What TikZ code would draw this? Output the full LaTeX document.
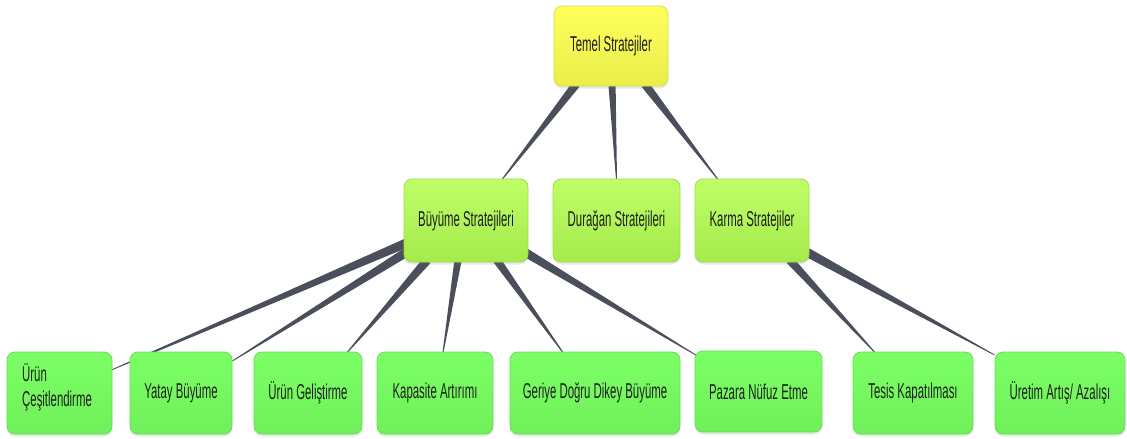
\documentclass[tikz,border=0pt]{standalone}
\usepackage{fontspec}
\setmainfont{Liberation Sans}[FakeStretch=0.53]
\usetikzlibrary{calc,backgrounds,shadows}
\definecolor{ytop}{HTML}{FFFF5C}
\definecolor{ybot}{HTML}{E9EE4A}
\definecolor{yedge}{HTML}{D8DC48}
\definecolor{mtop}{HTML}{BEFF66}
\definecolor{mbot}{HTML}{A6EA4C}
\definecolor{medge}{HTML}{9CDC50}
\definecolor{btop}{HTML}{7CFF66}
\definecolor{bbot}{HTML}{70F05A}
\definecolor{bedge}{HTML}{66DD55}
\definecolor{wedgec}{HTML}{4B4F5C}
\definecolor{txt}{HTML}{1E1E1E}
\newcommand\wedgeline[4]{%
  \fill[wedgec] ($(#1)!#3!90:(#2)$) -- ($(#1)!#3!-90:(#2)$) -- ($(#2)!#4!90:(#1)$) -- ($(#2)!#4!-90:(#1)$) -- cycle;}
\tikzset{
  lbl/.style={text=txt, font=\fontsize{21.5}{25}\selectfont},
  box/.style={lbl, rounded corners=8pt, line width=0.8pt, inner sep=0pt, align=center,
    drop shadow={opacity=0.18, shadow xshift=0pt, shadow yshift=-2.5pt}},
  topbox/.style={box, draw=yedge, top color=ytop, bottom color=ybot},
  midbox/.style={box, draw=medge, top color=mtop, bottom color=mbot, minimum height=83pt},
  botbox/.style={box, draw=bedge, top color=btop, bottom color=bbot, minimum height=82pt},
}
\begin{document}
\begin{tikzpicture}[x=1pt,y=-1pt]
\useasboundingbox (0,0) rectangle (1127,439);
\node[topbox, minimum width=114pt, minimum height=80pt] (T) at (611,46) {Temel Stratejiler};
\node[midbox, minimum width=124pt] (B) at (466,220.5) {Büyüme Stratejileri};
\node[midbox, minimum width=127pt] (D) at (616.5,220.5) {Durağan Stratejileri};
\node[midbox, minimum width=114pt] (K) at (752,220.5) {Karma Stratejiler};
\node[botbox, minimum width=105pt] (U1) at (59.5,393) {};
\node[lbl, align=left, anchor=north west, inner sep=0pt] (U1t) at (22,363) {Ürün\\Çeşitlendirme};
\node[botbox, minimum width=102pt] (U2) at (181,393) {Yatay Büyüme};
\node[botbox, minimum width=108pt] (U3) at (308,393) {Ürün Geliştirme};
\node[botbox, minimum width=116pt] (U4) at (435,393) {Kapasite Artırımı};
\node[botbox, minimum width=170pt] (U5) at (595,393) {Geriye Doğru Dikey Büyüme};
\node[botbox, minimum width=127pt, minimum height=81pt] (U6) at (758.5,391.5) {Pazara Nüfuz Etme};
\node[botbox, minimum width=120pt] (U7) at (913,393) {Tesis Kapatılması};
\node[botbox, minimum width=130pt] (U8) at (1060,393) {Üretim Artış/ Azalışı};
\begin{scope}[on background layer]
\coordinate (s1) at ($(T.south)+(-35,-2)$); \coordinate (e1) at ($(B.north)+(36,1)$);
\coordinate (s2) at ($(T.south)+(1,-2)$);   \coordinate (e2) at ($(D.north)+(0,1)$);
\coordinate (s3) at ($(T.south)+(34,-2)$);  \coordinate (e3) at ($(K.north)+(-34,1)$);
\coordinate (s4) at ($(B.west)+(4,22)$);    \coordinate (e4) at ($(U1.east)+(-1,-23)$);
\coordinate (s5) at ($(B.west)+(4,31)$);    \coordinate (e5) at ($(U2.east)+(0,-32)$);
\coordinate (s6) at ($(B.south)+(-39,-2)$); \coordinate (e6) at ($(U3.north)+(39,1)$);
\coordinate (s7) at ($(B.south)+(-8,-2)$);  \coordinate (e7) at ($(U4.north)+(8,1)$);
\coordinate (s8) at ($(B.south)+(31,-2)$);  \coordinate (e8) at ($(U5.north)+(-32,1)$);
\coordinate (s9) at ($(B.east)+(-3,32)$);   \coordinate (e9) at ($(U6.west)+(2,-36)$);
\coordinate (s10) at ($(K.south)+(38,-2)$); \coordinate (e10) at ($(U7.north)+(-38,1)$);
\coordinate (s11) at ($(K.east)+(-2,32)$);  \coordinate (e11) at ($(U8.west)+(0,-38)$);
\wedgeline{s1}{e1}{4.2pt}{0.5pt}
\wedgeline{s2}{e2}{3.6pt}{0.5pt}
\wedgeline{s3}{e3}{4.2pt}{0.5pt}
\wedgeline{s4}{e4}{4.6pt}{0.4pt}
\wedgeline{s5}{e5}{4.6pt}{0.4pt}
\wedgeline{s6}{e6}{4.4pt}{0.5pt}
\wedgeline{s7}{e7}{3.6pt}{0.5pt}
\wedgeline{s8}{e8}{4pt}{0.5pt}
\wedgeline{s9}{e9}{4.4pt}{0.4pt}
\wedgeline{s10}{e10}{4.2pt}{0.5pt}
\wedgeline{s11}{e11}{4.6pt}{0.4pt}
\end{scope}
\end{tikzpicture}
\end{document}
